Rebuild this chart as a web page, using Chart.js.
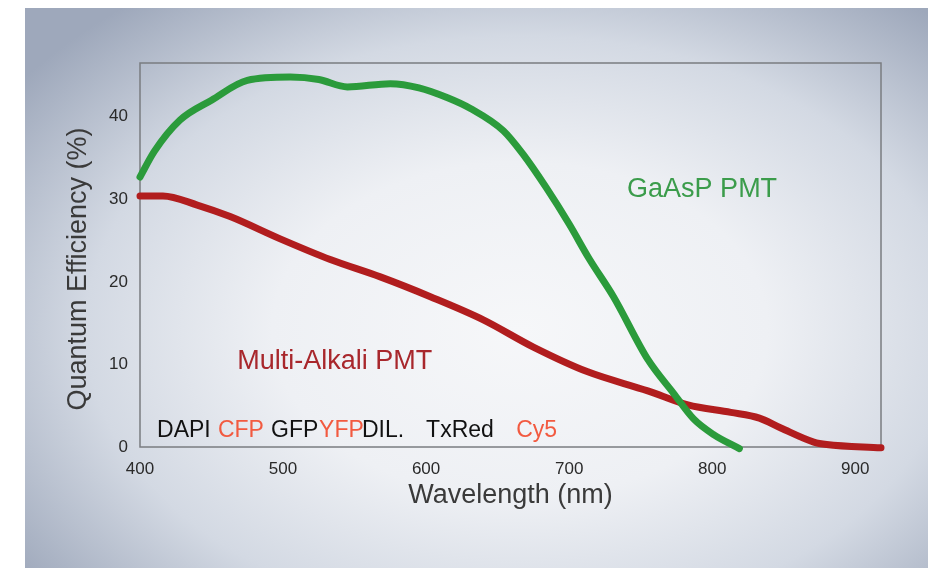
<!DOCTYPE html>
<html><head><meta charset="utf-8">
<script src="https://cdn.jsdelivr.net/npm/chart.js@4"></script>
<style>html,body{margin:0;padding:0;background:#fff;overflow:hidden}#wrap{width:935px;height:568px;position:relative}</style>
</head><body><div id="wrap"><canvas id="c" width="935" height="568"></canvas></div>
<script>
// ---- data ----
const gaasWavelength = [400, 410, 428, 450, 475, 505, 525, 545, 575, 595, 615, 631, 654, 668, 684, 700, 714, 731, 755, 773, 787, 801, 819];
const gaasQE         = [32.7, 35.8, 39.6, 42.0, 44.4, 44.8, 44.5, 43.6, 44.0, 43.5, 42.3, 41.0, 38.3, 35.4, 31.4, 27.0, 22.8, 18.2, 10.6, 6.5, 3.4, 1.5, -0.2];
const alkaliWavelength = [400, 416, 440, 463, 498, 533, 568, 603, 640, 675, 713, 755, 783, 813, 833, 848, 871, 880, 918];
const alkaliQE         = [30.4, 30.4, 29.3, 27.9, 25.2, 22.7, 20.6, 18.2, 15.4, 12.1, 9.1, 6.8, 5.1, 4.2, 3.5, 2.3, 0.6, 0.3, -0.1];
const xTickValues = [400, 500, 600, 700, 800, 900];
const yTickValues = [0, 10, 20, 30, 40];
const seriesNames = ['GaAsP PMT', 'Multi-Alkali PMT'];
const dyeNames = ['DAPI', 'CFP', 'GFP', 'YFP', 'DIL.', 'TxRed', 'Cy5'];
const xTitle = 'Wavelength (nm)';
const yTitle = 'Quantum Efficiency (%)';

const toPoints = (xs, ys) => xs.map((x, i) => ({x: x, y: ys[i]}));
const FONT = '"Liberation Sans", Arial, sans-serif';

const bgPlugin = {
  id: 'bg',
  beforeDraw(chart) {
    const ctx = chart.ctx;
    ctx.save();
    ctx.fillStyle = '#ffffff';
    ctx.fillRect(0, 0, chart.width, chart.height);
    ctx.translate(520, 330);
    ctx.scale(620 / 420, 1);
    const g = ctx.createRadialGradient(0, 0, 0, 0, 0, 420);
    g.addColorStop(0, '#f6f7f9');
    g.addColorStop(0.4, '#eef0f4');
    g.addColorStop(0.7, '#d3d9e3');
    g.addColorStop(1, '#9ea8bb');
    ctx.fillStyle = g;
    ctx.fillRect((25 - 520) * 420 / 620, 8 - 330, (928 - 25) * 420 / 620, 568 - 8);
    ctx.restore();
  },
  beforeDatasetsDraw(chart) {
    const {ctx, chartArea: a} = chart;
    ctx.save();
    ctx.strokeStyle = '#7a7c80';
    ctx.lineWidth = 1.5;
    ctx.strokeRect(a.left, a.top, a.right - a.left, a.bottom - a.top);
    ctx.restore();
  },
  afterDraw(chart) {
    const ctx = chart.ctx;
    const xs = chart.scales.x, ys = chart.scales.y;
    ctx.save();
    // y axis title
    ctx.translate(79, 269);
    ctx.rotate(-Math.PI / 2);
    ctx.font = '27px ' + FONT;
    ctx.fillStyle = '#3a3a3a';
    ctx.textAlign = 'center';
    ctx.textBaseline = 'middle';
    ctx.fillText(yTitle, 0, 0);
    ctx.restore();

    ctx.save();
    ctx.textBaseline = 'middle';
    ctx.textAlign = 'left';
    ctx.font = '27px ' + FONT;
    ctx.fillStyle = '#3b9c4b';
    ctx.fillText(seriesNames[0], xs.getPixelForValue(740.5), ys.getPixelForValue(31.2));
    ctx.fillStyle = '#a8272c';
    ctx.fillText(seriesNames[1], xs.getPixelForValue(468), ys.getPixelForValue(10.3));
    // dye labels
    ctx.font = '23px ' + FONT;
    const dyeAt = [411.9, 454.5, 491.6, 525.2, 555.2, 600.0, 663.0];
    const dyeColor = ['#111', '#f25a40', '#111', '#f25a40', '#111', '#111', '#f25a40'];
    const yy = ys.getPixelForValue(2.0);
    dyeNames.forEach((n, i) => {
      ctx.fillStyle = dyeColor[i];
      ctx.fillText(n, xs.getPixelForValue(dyeAt[i]), yy);
    });
    ctx.restore();
  }
};

new Chart(document.getElementById('c'), {
  type: 'line',
  data: {
    datasets: [
      {label: seriesNames[0], data: toPoints(gaasWavelength, gaasQE), borderColor: '#2b9b3b', borderWidth: 7,
       pointRadius: 0, tension: 0.4, cubicInterpolationMode: 'monotone', borderCapStyle: 'round', borderJoinStyle: 'round', clip: false, fill: false},
      {label: seriesNames[1], data: toPoints(alkaliWavelength, alkaliQE), borderColor: '#b11d1e', borderWidth: 7,
       pointRadius: 0, tension: 0.4, cubicInterpolationMode: 'monotone', borderCapStyle: 'round', borderJoinStyle: 'round', clip: false, fill: false}
    ]
  },
  options: {
    responsive: false,
    animation: false,
    devicePixelRatio: 1,
    layout: {padding: {left: 0, top: 63, right: 54, bottom: 0}},
    plugins: {legend: {display: false}, tooltip: {enabled: false}},
    scales: {
      x: {
        type: 'linear', min: 400, max: 918,
        grid: {display: false, drawTicks: false}, border: {display: false},
        afterBuildTicks: s => { s.ticks = xTickValues.map(v => ({value: v})); },
        afterFit: s => { s.height = 121; },
        ticks: {color: '#2a2a2a', padding: 12, font: {family: FONT, size: 17}},
        title: {display: true, text: xTitle, color: '#3a3a3a', padding: {top: 0, bottom: 56},
                font: {family: FONT, size: 27}}
      },
      y: {
        type: 'linear', min: 0, max: 46.5,
        grid: {display: false, drawTicks: false}, border: {display: false},
        afterBuildTicks: s => { s.ticks = yTickValues.map(v => ({value: v})); },
        afterFit: s => { s.width = 140; },
        ticks: {color: '#2a2a2a', padding: 12, font: {family: FONT, size: 17}}
      }
    }
  },
  plugins: [bgPlugin]
});
</script></body></html>
